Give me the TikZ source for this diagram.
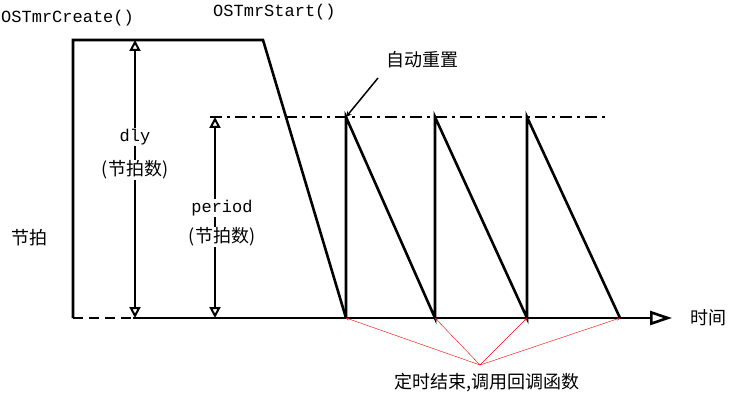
\documentclass[tikz,border=0pt]{standalone}
\usepackage{fontspec}
\setmonofont{Liberation Mono}
\newfontfamily\cjk{Noto Sans CJK SC}
\usetikzlibrary{arrows.meta}
\tikzstyle{line}=[line width=2.6pt]
\tikzstyle{dim}=[line width=2pt,{Triangle[open,length=11pt,width=11pt]}-{Triangle[open,length=11pt,width=11pt]}]
\tikzstyle{note}=[red,thin,->,>=stealth]
\tikzstyle{lbl}=[font=\fontsize{17}{19}\selectfont\ttfamily]
\tikzstyle{cn}=[font=\fontsize{18}{20}\selectfont\cjk]

\begin{document}
\begin{tikzpicture}[x=1pt,y=-1pt]
    \useasboundingbox (0,0) rectangle (738,403);
    \node [lbl, anchor=west, inner sep=0pt] (create) at (1,18) {OSTmrCreate()};
    \node [lbl, anchor=west, inner sep=0pt] (start) at (213,12) {OSTmrStart()};
    \node [cn] (tick) at (30,238) {节拍};
    \node [cn] (time) at (708,318) {时间};
    \node [cn] (reset) at (422,60) {自动重置};
    \node [cn] (expire) at (487,383) {定时结束,调用回调函数};

    \coordinate (a) at (73,40);
    \coordinate (b) at (263,40);
    \coordinate (o) at (73,318);
    \coordinate (t1) at (346,318);
    \coordinate (t2) at (435,318);
    \coordinate (t3) at (527,318);
    \coordinate (t4) at (620,318);
    \coordinate (p1) at (346,117);
    \coordinate (p2) at (435,117);
    \coordinate (p3) at (527,117);
    \coordinate (end) at (672,318);

    % timer lines
    \draw [line] (o) -- (a) -- (b) -- (t1);
    \draw [line, dashed, dash pattern=on 10pt off 6pt] (o) -- (133,318);
    \draw [line, -{Triangle[open,length=22pt,width=14pt]}] (133,318) -- (end);
    \draw [line, dash pattern=on 12pt off 5pt on 3pt off 5pt] (210,117) -- (605,117);
    \draw [line] (t1) -- (p1) -- (t2) -- (p2) -- (t3) -- (p3) -- (t4);

    % dimensions
    \draw [dim] (135,40) -- (135,318);
    \draw [dim] (215,117) -- (215,318);
    \node [lbl, fill=white, inner sep=1pt] (dly) at (135,137) {dly};
    \node [cn, fill=white, inner sep=1pt] (dlyn) at (135,170) {(节拍数)};
    \node [lbl, fill=white, inner sep=1pt] (per) at (222,208) {period};
    \node [cn, fill=white, inner sep=1pt] (pern) at (222,237) {(节拍数)};

    % notes
    \draw [line width=1.5pt,->,>=stealth] (378,78) -- (p1);
    \foreach \t in {t1,t2,t3,t4}
        \draw [note] (480,365) -- (\t);
\end{tikzpicture}
\end{document}
